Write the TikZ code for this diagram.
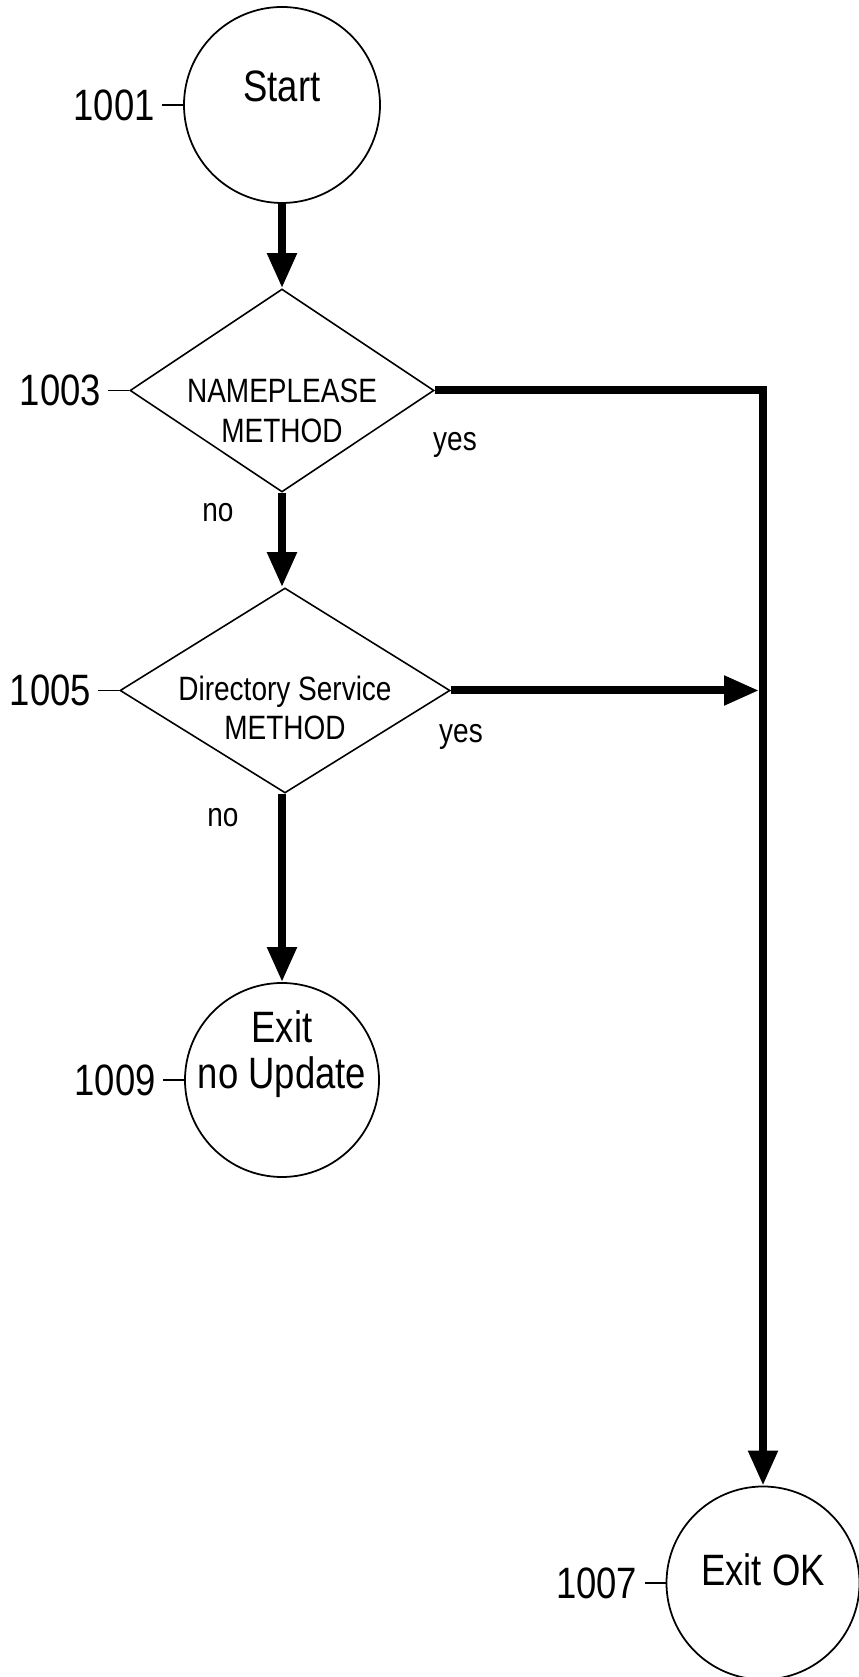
\documentclass[tikz,border=0pt]{standalone}
\usepackage{fontspec}
\newfontfamily\patfont[FakeStretch=0.83]{Liberation Sans}
\usepackage{tikz}
\usetikzlibrary{shapes.geometric, positioning, arrows.meta, calc}
\newcommand{\nudge}[2]{\raisebox{#1}[\height][\depth]{\makebox[0pt]{\begin{tabular}{@{}c@{}}#2\end{tabular}}}}
\newcommand{\refmark}[3]
{
	\node[refnum, left=0.42cm of #2] (#1) {#3};
	\draw[tick] (#1.east) -- (#2.west)
}

\begin{document}
\begin{tikzpicture}[
	bigtext/.style={font=\patfont\fontsize{25}{25.6}\selectfont},
	smalltext/.style={font=\patfont\fontsize{19.2}{22.5}\selectfont},
	terminal/.style={shape=circle, draw=black, line width=1pt, inner sep=0pt, minimum size=3.92cm, bigtext},
	decision/.style={shape=diamond, draw=black, line width=0.9pt, inner sep=0pt, smalltext},
	refnum/.style={inner xsep=0.14cm, inner ysep=0pt, bigtext},
	tick/.style={line width=0.8pt},
	flow/.style={line width=0.16cm, -{Triangle[length=0.7cm, width=0.56cm]}},
	answer/.style={smalltext}]

	\useasboundingbox (0,0) rectangle (17.16,33.54);

	\node[terminal] (start) at (5.64,31.44) {\nudge{0.24cm}{Start}};
	\node[decision, minimum width=6.08cm, minimum height=4.06cm] (nameplease) at (5.64,25.73) {\nudge{-0.48cm}{NAMEPLEASE\\METHOD}};
	\node[decision, minimum width=6.60cm, minimum height=4.10cm] (dirservice) at (5.70,19.73) {\nudge{-0.43cm}{Directory Service\\METHOD}};
	\node[terminal, minimum size=3.88cm] (exitnoupdate) at (5.64,11.94) {\nudge{0.47cm}{Exit\\no Update}};
	\node[terminal, minimum size=3.86cm] (exitok) at (15.26,1.88) {\nudge{0.14cm}{Exit OK}};

	\refmark{l1001}{start}{1001};
	\refmark{l1003}{nameplease}{1003};
	\refmark{l1005}{dirservice}{1005};
	\refmark{l1009}{exitnoupdate}{1009};
	\refmark{l1007}{exitok}{1007};

	\draw[flow] (start.south) -- (nameplease.north);
	\draw[flow] (nameplease.south) -- (nameplease.south |- dirservice.north);
	\draw[flow] (exitnoupdate.north |- dirservice.south) -- (exitnoupdate.north);
	\draw[flow] (nameplease.east) -| (exitok.north);
	\coordinate (merge) at (exitok.north |- dirservice.east);
	\draw[flow, shorten >=0.08cm] (dirservice.east) -- (merge);

	\node[answer] (yes1) at (9.10,24.64) {yes};
	\node[answer] (no1) at (4.36,23.28) {no};
	\node[answer] (yes2) at (9.22,18.80) {yes};
	\node[answer] (no2) at (4.46,17.18) {no};
\end{tikzpicture}
\end{document}
